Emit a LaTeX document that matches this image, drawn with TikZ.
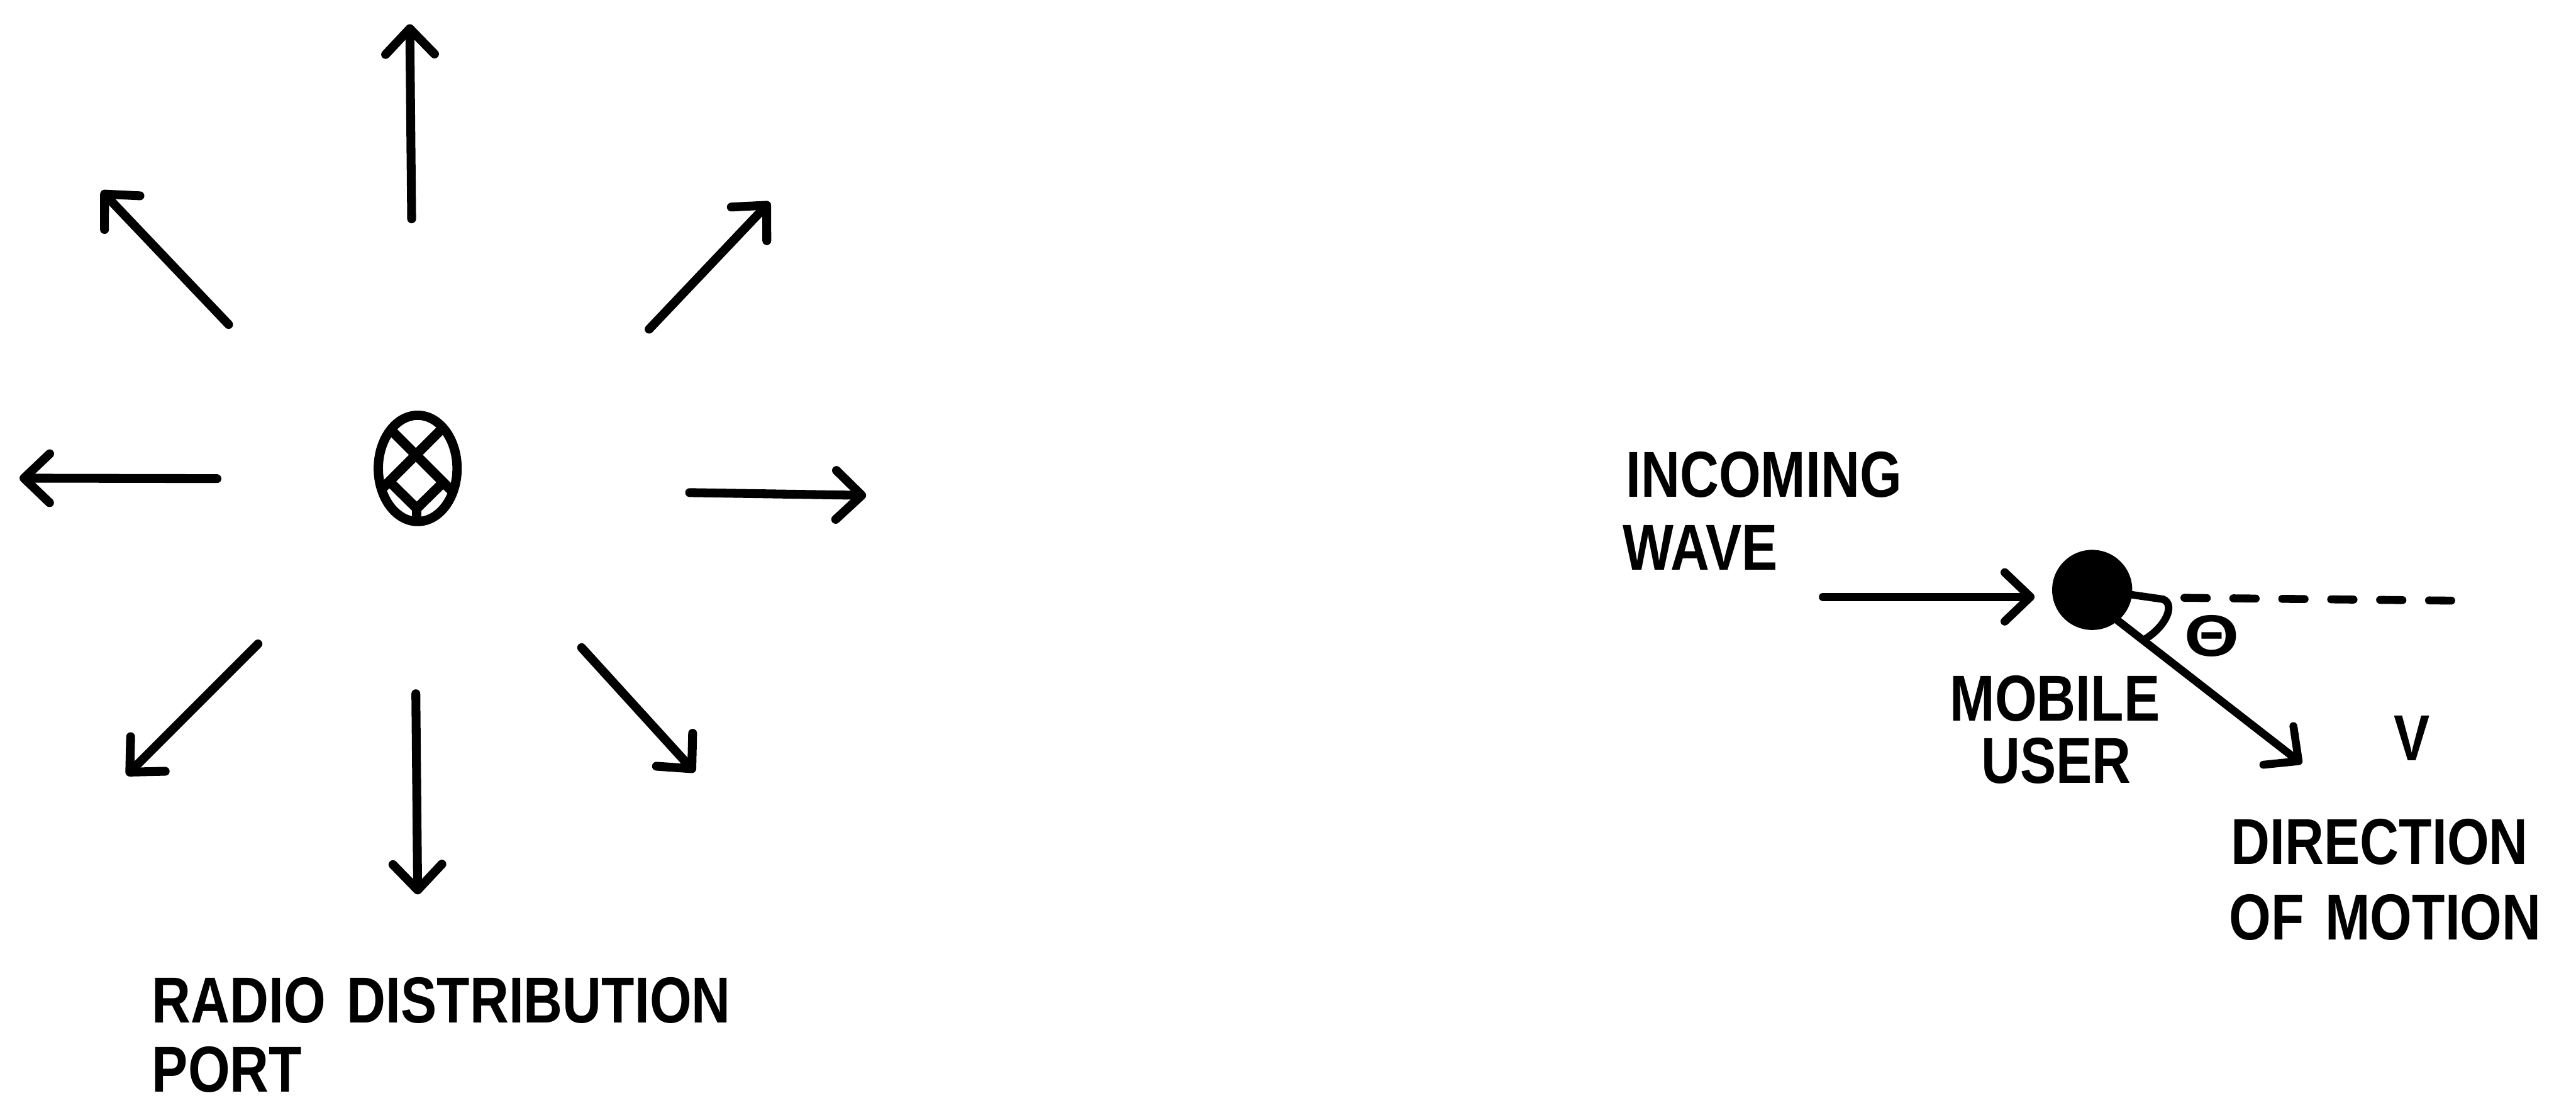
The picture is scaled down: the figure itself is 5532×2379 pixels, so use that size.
\documentclass[tikz,border=0pt]{standalone}
\usepackage{fontspec}
\usetikzlibrary{arrows.meta,shapes.geometric}
\newfontfamily\lblfamily[FakeStretch=0.83]{Liberation Sans}
\newfontfamily\thetafamily{Liberation Sans}
\newcommand\lblfont{\lblfamily\bfseries\fontsize{39.7pt}{45pt}\selectfont}
\tikzset{
  arr/.style={line width=0.19cm, line cap=round, line join=round,
    -{Straight Barb[length=0.55cm, width=1.05cm, round]}},
  thinarr/.style={arr, line width=0.17cm},
  antline/.style={line width=0.21cm},
  dashline/.style={line width=0.17cm, line cap=round, dash pattern=on 0.48cm off 0.57cm},
  arcline/.style={line width=0.16cm, line cap=round, line join=round},
  lbl/.style={font=\lblfont, inner sep=0pt, anchor=base west},
}
\begin{document}
\begin{tikzpicture}[x=0.01cm,y=-0.01cm]
\useasboundingbox (0,0) rectangle (5532,2379);

% ---------- radio distribution port ----------
\node[ellipse, draw, line width=0.2cm, minimum width=1.69cm, minimum height=2.28cm, inner sep=0pt] (ant) at (897,1006) {};
\draw[antline] (837,921) -- (975,1059);
\draw[antline] (953,917) -- (817,1053);
\draw[antline, line join=round] (836,1034) -- (895,1092) -- (952,1036);
\draw[antline] (895,1092) -- (895,1125);

\coordinate (tN)  at (884,470);   \coordinate (hN)  at (880,52);
\coordinate (tNE) at (1394,707);  \coordinate (hNE) at (1653,434);
\coordinate (tE)  at (1481,1058); \coordinate (hE)  at (1860,1064);
\coordinate (tSE) at (1249,1391); \coordinate (hSE) at (1492,1658);
\coordinate (tS)  at (893,1490);  \coordinate (hS)  at (897,1921);
\coordinate (tSW) at (554,1383);  \coordinate (hSW) at (272,1665);
\coordinate (tW)  at (466,1028);  \coordinate (hW)  at (42,1027);
\coordinate (tNW) at (491,697);   \coordinate (hNW) at (218,410);
\foreach \d in {N,NE,E,SE,S,SW,W,NW} \draw[arr] (t\d) -- (h\d);

\node[lbl] (radio) at (326,2197) {RADIO\hspace{0.45cm}DISTRIBUTION};
\node[lbl] (port) at (326,2345) {PORT};

% ---------- mobile user ----------
\node[circle, fill=black, minimum size=1.72cm, inner sep=0pt] (mob) at (4493,1267) {};
\coordinate (inTail) at (3915,1282);
\draw[arr, line width=0.18cm, shorten >=0.37cm] (inTail) -- (mob.west |- inTail);
\coordinate (dirTip) at (4943,1640);
\draw[thinarr] (mob.-50.5) -- (dirTip);
\coordinate (dashA) at (4691,1284);
\coordinate (dashB) at (5264,1290);
\draw[dashline] (dashA) -- (dashB);
\draw[arcline] (mob.-7) -- (4645,1287) .. controls (4672,1298) and (4652,1345) .. (4606,1373);
\node[inner sep=0pt, font=\thetafamily\bfseries\fontsize{35.8pt}{40pt}\selectfont] (theta) at (4750,1366) {\scalebox{1.2}[1]{Θ}};

\node[lbl] (inc) at (3491,1068) {INCOMING};
\node[lbl] (wave) at (3484,1224) {WAVE};
\node[lbl] (mobile) at (4187,1548) {MOBILE};
\node[lbl] (user) at (4254,1682) {USER};
\node[lbl] (vel) at (5140,1634) {V};
\node[lbl] (dir) at (4791,1857) {DIRECTION};
\node[lbl] (motion) at (4787,2018) {OF\hspace{0.45cm}MOTION};
\end{tikzpicture}
\end{document}
